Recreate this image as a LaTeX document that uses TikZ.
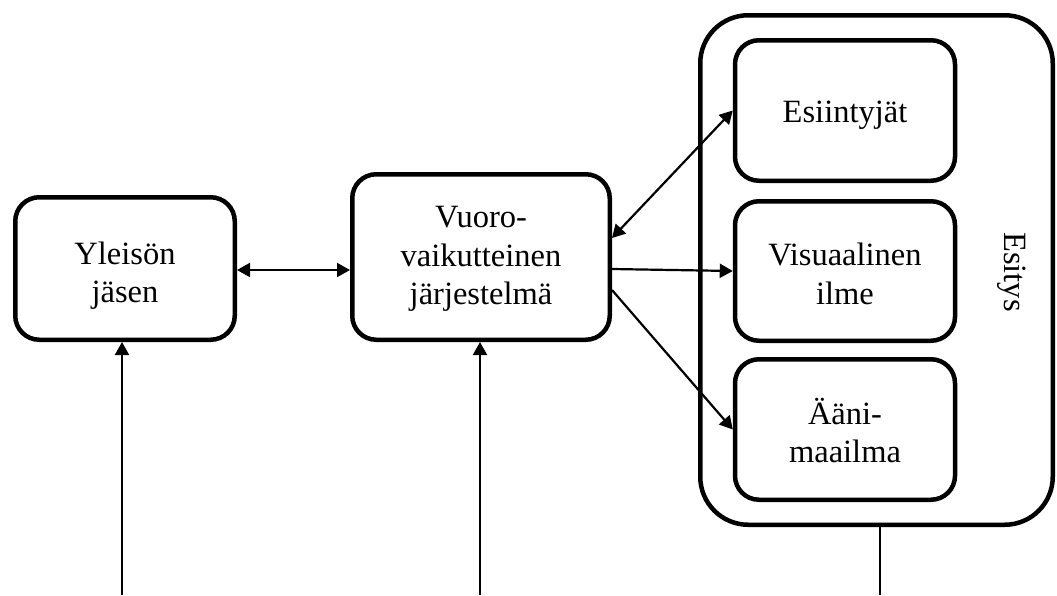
\documentclass[tikz,border=0pt]{standalone}
\usepackage{fontspec}
\setmainfont{Liberation Serif}
\usetikzlibrary{arrows.meta}
\begin{document}
\begin{tikzpicture}[x=1pt,y=-1pt,
  box/.style={draw,line width=4.5pt,rounded corners=24pt,inner sep=0pt},
  smallbox/.style={box,minimum width=220pt},
  txt/.style={align=center,inner sep=0pt,font=\fontsize{32.5}{38.5}\selectfont},
  frame/.style={draw,line width=4.5pt,rounded corners=48pt,inner sep=0pt},
  conn/.style={line width=2.2pt,-{Triangle[length=13pt,width=14pt]}},
  biconn/.style={line width=2.2pt,{Triangle[length=13pt,width=14pt]}-{Triangle[length=13pt,width=14pt]}},
  plain/.style={line width=2.2pt}]
\useasboundingbox (0,0) rectangle (1057,595);

% main boxes
\node[box,minimum width=219.5pt,minimum height=142.5pt] (yleiso) at (125,268.5) {};
\node[txt] (yleisotxt) at ([yshift=-7pt]yleiso.center) {Yleisön\\jäsen};
\node[box,minimum width=257.5pt,minimum height=165.5pt] (vuoro) at (481,257) {};
\node[txt] (vuorotxt) at ([yshift=-2pt]vuoro.center) {Vuoro-\\vaikutteinen\\järjestelmä};

% performance frame and its parts
\node[frame,minimum width=352.5pt,minimum height=509.5pt] (esitys) at (876.5,270) {};
\node[txt,rotate=-90] (esityslabel) at (1012,272) {Esitys};
\node[smallbox,minimum height=140.5pt] (esi) at (845,110.5) {};
\node[txt] (esitxt) at ([yshift=-5pt]esi.center) {Esiintyjät};
\node[smallbox,minimum height=139.5pt] (vis) at (845,271) {};
\node[txt] (vistxt) at ([yshift=-3pt]vis.center) {Visuaalinen\\ilme};
\node[smallbox,minimum height=140.5pt] (aani) at (845,429.5) {};
\node[txt] (aanitxt) at ([yshift=-1pt]aani.center) {Ääni-\\maailma};

% free ends at the lower edge
\coordinate (b1) at (122,595);
\coordinate (b2) at (480,595);
\coordinate (b3) at (880,595);

% connectors
\draw[biconn] (yleiso.east |- 0,270) -- (vuoro.west |- 0,270);
\draw[biconn] ([yshift=19pt]vuoro.east) -- (esi.west);
\draw[conn] ([yshift=-12pt]vuoro.east) -- (vis.west);
\draw[conn] ([yshift=-33pt]vuoro.east) -- (aani.west);
\draw[conn] (b1) -- (b1 |- yleiso.south);
\draw[conn] (b2) -- (b2 |- vuoro.south);
\draw[plain] (b3 |- esitys.south) -- (b3);
\end{tikzpicture}
\end{document}
